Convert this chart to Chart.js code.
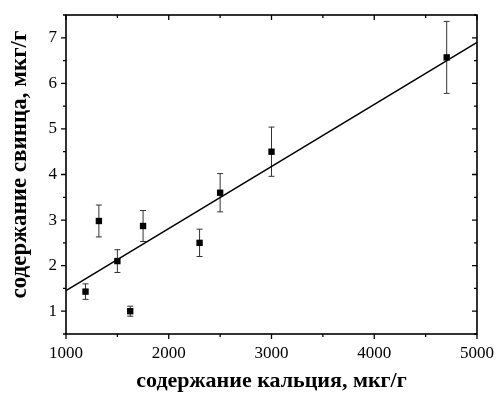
<!DOCTYPE html>
<html>
<head>
<meta charset="utf-8">
<script src="https://cdn.jsdelivr.net/npm/chart.js@4"></script>
<style>
  html, body { margin: 0; padding: 0; background: #fff; }
</style>
</head>
<body>
<canvas id="leadCalcium" width="497" height="395"></canvas>
<script>
// measured samples: calcium vs lead, with error bars
const calcium = [1190, 1320, 1500, 1625, 1750, 2300, 2500, 3000, 4705];
const lead = [1.43, 2.98, 2.1, 1.0, 2.87, 2.5, 3.6, 4.5, 6.57];
const leadErr = [0.17, 0.35, 0.25, 0.11, 0.34, 0.3, 0.42, 0.54, 0.79];

// linear fit
const fitX = [1000, 5000];
const fitY = [1.45, 6.9];

const xLabel = "содержание кальция, мкг/г";
const yLabel = "содержание свинца, мкг/г";

const serif = "'Liberation Serif', 'Times New Roman', serif";

const errorBars = {
  id: "errorBars",
  beforeDatasetsDraw(chart) {
    const { ctx, scales } = chart;
    const meta = chart.getDatasetMeta(0);
    ctx.save();
    ctx.strokeStyle = "#333";
    ctx.lineWidth = 1;
    meta.data.forEach((pt, i) => {
      const x = pt.x;
      const yTop = scales.y.getPixelForValue(lead[i] + leadErr[i]);
      const yBot = scales.y.getPixelForValue(lead[i] - leadErr[i]);
      ctx.beginPath();
      ctx.moveTo(x, yTop);
      ctx.lineTo(x, yBot);
      ctx.moveTo(x - 3, yTop);
      ctx.lineTo(x + 3, yTop);
      ctx.moveTo(x - 3, yBot);
      ctx.lineTo(x + 3, yBot);
      ctx.stroke();
    });
    ctx.restore();
  },
};

// frame with major/minor ticks (out on left/bottom, in on top/right)
// + the y title, which sits a bit above the plot centre in the original
const frame = {
  id: "frame",
  afterDraw(chart) {
    const { ctx, chartArea: a, scales } = chart;
    ctx.save();
    ctx.strokeStyle = "#000";
    ctx.lineWidth = 1.6;
    ctx.strokeRect(a.left, a.top, a.right - a.left, a.bottom - a.top);
    ctx.lineWidth = 1.3;
    ctx.beginPath();
    scales.x.ticks.forEach((t) => {
      const px = scales.x.getPixelForValue(t.value);
      const len = t.value % 1000 === 0 ? 5 : 3;
      ctx.moveTo(px, a.bottom);
      ctx.lineTo(px, a.bottom + len);
      ctx.moveTo(px, a.top);
      ctx.lineTo(px, a.top + len);
    });
    scales.y.ticks.forEach((t) => {
      const py = scales.y.getPixelForValue(t.value);
      const len = Number.isInteger(t.value) ? 5 : 3;
      ctx.moveTo(a.left, py);
      ctx.lineTo(a.left - len, py);
      ctx.moveTo(a.right, py);
      ctx.lineTo(a.right - len, py);
    });
    ctx.stroke();

    ctx.translate(26, (a.top + a.bottom) / 2 - 10);
    ctx.rotate(-Math.PI / 2);
    ctx.fillStyle = "#000";
    ctx.font = "bold 23px " + serif;
    ctx.textAlign = "center";
    ctx.textBaseline = "alphabetic";
    ctx.fillText(yLabel, 0, 0);
    ctx.restore();
  },
};

const chartConfig = {
  type: "scatter",
  data: {
    datasets: [
      {
        label: "samples",
        data: calcium.map((c, i) => ({ x: c, y: lead[i] })),
        pointStyle: "rect",
        radius: 4.5,
        backgroundColor: "#000",
        borderColor: "#000",
        borderWidth: 0,
      },
      {
        type: "line",
        label: "fit",
        data: fitX.map((c, i) => ({ x: c, y: fitY[i] })),
        borderColor: "#000",
        borderWidth: 1.5,
        pointRadius: 0,
        fill: false,
      },
    ],
  },
  options: {
    responsive: false,
    animation: false,
    events: [],
    layout: { padding: { top: 15, right: 20, left: 0, bottom: 0 } },
    plugins: { legend: { display: false }, tooltip: { enabled: false } },
    scales: {
      x: {
        type: "linear",
        min: 1000,
        max: 5000,
        afterFit(scale) {
          scale.height = 61;
          scale.paddingLeft = 0;
          scale.paddingRight = 0;
        },
        grid: { display: false, drawTicks: false },
        border: { display: false },
        ticks: {
          stepSize: 500,
          maxRotation: 0,
          autoSkip: false,
          padding: 9,
          color: "#000",
          font: { family: serif, size: 17 },
          callback: (v) => (v % 1000 === 0 ? String(v) : ""),
        },
        title: {
          display: true,
          text: xLabel,
          color: "#000",
          padding: { top: 0, bottom: 0 },
          font: { family: serif, size: 22, weight: "bold" },
        },
      },
      y: {
        min: 0.5,
        max: 7.5,
        afterFit(scale) {
          scale.width = 66;
          scale.paddingTop = 0;
          scale.paddingBottom = 0;
        },
        grid: { display: false, drawTicks: false },
        border: { display: false },
        ticks: {
          stepSize: 0.5,
          autoSkip: false,
          padding: 9,
          color: "#000",
          font: { family: serif, size: 17 },
          callback: (v) => (Number.isInteger(v) ? String(v) : ""),
        },
        title: { display: false, text: yLabel },
      },
    },
  },
  plugins: [errorBars, frame],
};

const leadChart = new Chart(document.getElementById("leadCalcium"), chartConfig);
</script>
</body>
</html>
